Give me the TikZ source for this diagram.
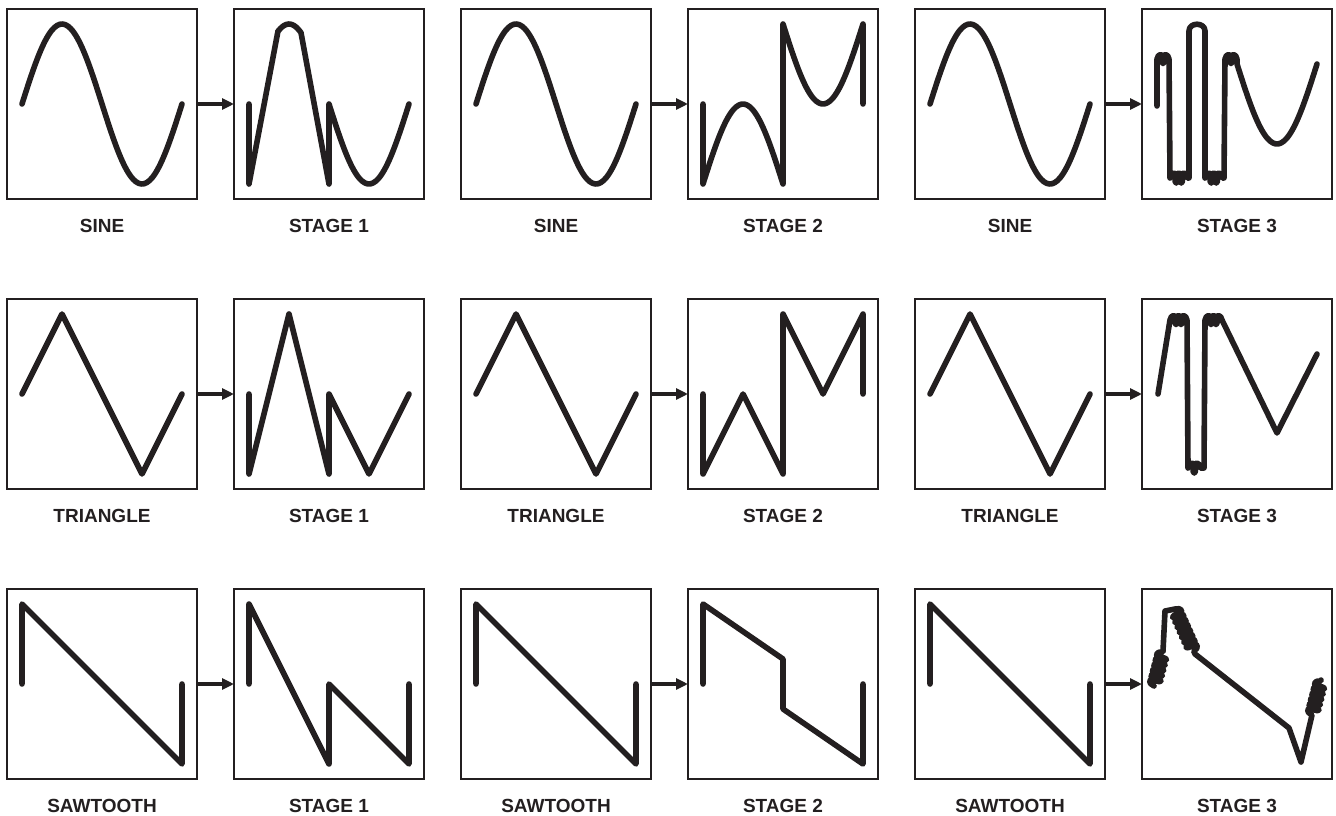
\documentclass[tikz,border=0pt]{standalone}
\usepackage{fontspec}
\setmainfont{Liberation Sans}
\usepackage{tikz}
\usetikzlibrary{positioning,arrows.meta,decorations.pathmorphing}
\definecolor{ink}{RGB}{35,31,32}

\begin{document}
\begin{tikzpicture}[x=1pt,y=-1pt,>={Triangle[length=12pt,width=11pt]},
  wbox/.style={draw=ink,line width=1.8pt,minimum size=190pt,inner sep=0pt,outer sep=0pt},
  lbl/.style={font=\bfseries\fontsize{19}{22}\selectfont,text=ink,inner sep=0pt},
  wave/.style={draw=ink,line width=5.6pt,line cap=round,line join=round},
  coilpart/.style={decorate,decoration={coil,amplitude=#1,segment length=5pt}},
  sawcoil/.style={decorate,decoration={coil,amplitude=5.5pt,segment length=5.5pt,aspect=0.45}},
  feed/.style={->,draw=ink,line width=3.2pt}]
\useasboundingbox (0,0) rectangle (1336,816);
% ---- boxes, row 1 (sine) ----
\node[wbox] (sinIn1) at (102,104) {};
\node[wbox] (sinSt1) at (329,104) {};
\node[wbox] (sinIn2) at (556,104) {};
\node[wbox] (sinSt2) at (783,104) {};
\node[wbox] (sinIn3) at (1010,104) {};
\node[wbox] (sinSt3) at (1237,104) {};
% ---- boxes, row 2 (triangle) ----
\node[wbox] (triIn1) at (102,394) {};
\node[wbox] (triSt1) at (329,394) {};
\node[wbox] (triIn2) at (556,394) {};
\node[wbox] (triSt2) at (783,394) {};
\node[wbox] (triIn3) at (1010,394) {};
\node[wbox] (triSt3) at (1237,394) {};
% ---- boxes, row 3 (sawtooth) ----
\node[wbox] (sawIn1) at (102,684) {};
\node[wbox] (sawSt1) at (329,684) {};
\node[wbox] (sawIn2) at (556,684) {};
\node[wbox] (sawSt2) at (783,684) {};
\node[wbox] (sawIn3) at (1010,684) {};
\node[wbox] (sawSt3) at (1237,684) {};
% ---- labels ----
\node[lbl,below=20pt of sinIn1] (sinInL1) {SINE};
\node[lbl,below=20pt of sinSt1] (sinStL1) {STAGE 1};
\node[lbl,below=20pt of sinIn2] (sinInL2) {SINE};
\node[lbl,below=20pt of sinSt2] (sinStL2) {STAGE 2};
\node[lbl,below=20pt of sinIn3] (sinInL3) {SINE};
\node[lbl,below=20pt of sinSt3] (sinStL3) {STAGE 3};
\node[lbl,below=20pt of triIn1] (triInL1) {TRIANGLE};
\node[lbl,below=20pt of triSt1] (triStL1) {STAGE 1};
\node[lbl,below=20pt of triIn2] (triInL2) {TRIANGLE};
\node[lbl,below=20pt of triSt2] (triStL2) {STAGE 2};
\node[lbl,below=20pt of triIn3] (triInL3) {TRIANGLE};
\node[lbl,below=20pt of triSt3] (triStL3) {STAGE 3};
\node[lbl,below=20pt of sawIn1] (sawInL1) {SAWTOOTH};
\node[lbl,below=20pt of sawSt1] (sawStL1) {STAGE 1};
\node[lbl,below=20pt of sawIn2] (sawInL2) {SAWTOOTH};
\node[lbl,below=20pt of sawSt2] (sawStL2) {STAGE 2};
\node[lbl,below=20pt of sawIn3] (sawInL3) {SAWTOOTH};
\node[lbl,below=20pt of sawSt3] (sawStL3) {STAGE 3};
% ---- arrows ----
\draw[feed] (sinIn1) -- (sinSt1);
\draw[feed] (sinIn2) -- (sinSt2);
\draw[feed] (sinIn3) -- (sinSt3);
\draw[feed] (triIn1) -- (triSt1);
\draw[feed] (triIn2) -- (triSt2);
\draw[feed] (triIn3) -- (triSt3);
\draw[feed] (sawIn1) -- (sawSt1);
\draw[feed] (sawIn2) -- (sawSt2);
\draw[feed] (sawIn3) -- (sawSt3);
% ---- input waves (box-local coordinates, 190 x 190) ----
\foreach \b in {sinIn1,sinIn2,sinIn3}
  \draw[wave,shift={(\b.north west)}]
    plot[domain=15:175,samples=60,smooth] (\x,{95-80*sin(2.25*(\x-15))});
\foreach \b in {triIn1,triIn2,triIn3}
  \draw[wave,shift={(\b.north west)}] (15,95) -- (55,15) -- (135,175) -- (175,95);
\foreach \b in {sawIn1,sawIn2,sawIn3}
  \draw[wave,shift={(\b.north west)}] (15,95) -- (15,15) -- (175,175) -- (175,95);
% ---- stage 1 ----
\draw[wave,shift={(sinSt1.north west)}] (15,95) -- (15,175) -- (44,22)
  -- plot[domain=44:67,samples=12,smooth] (\x,{95-80*sin(2.25*(\x-15))})
  -- (95,175) -- (95,95)
  -- plot[domain=95:175,samples=30,smooth] (\x,{95-80*sin(2.25*(\x-15))});
\draw[wave,shift={(triSt1.north west)}] (15,95) -- (15,175) -- (55,15) -- (95,175)
  -- (95,95) -- (135,175) -- (175,95);
\draw[wave,shift={(sawSt1.north west)}] (15,95) -- (15,15) -- (95,175) -- (95,95)
  -- (175,175) -- (175,95);
% ---- stage 2 ----
\draw[wave,shift={(sinSt2.north west)}] (15,95)
  -- plot[domain=15:95,samples=30,smooth] (\x,{175-80*sin(2.25*(\x-15))})
  -- (95,15)
  -- plot[domain=95:175,samples=30,smooth] (\x,{15+80*sin(2.25*(\x-95))})
  -- (175,95);
\draw[wave,shift={(triSt2.north west)}] (15,95) -- (15,175) -- (55,95) -- (95,175)
  -- (95,15) -- (135,95) -- (175,15) -- (175,95);
\draw[wave,shift={(sawSt2.north west)}] (15,95) -- (15,15) -- (95,70) -- (95,120)
  -- (175,175) -- (175,95);
% ---- stage 3 (folds with ringing) ----
\draw[wave,shift={(sinSt3.north west)}] (15,97) -- (15,50)
  decorate[coilpart=4.5pt]{-- (27,50)} -- (28,169)
  decorate[coilpart=5pt]{-- (47,169)} -- (47,22)
  .. controls (47,13) and (63,13) .. (63,22) -- (63,169)
  decorate[coilpart=5pt]{-- (82,169)} -- (83,50)
  decorate[coilpart=4.5pt]{-- (95,50)}
  -- plot[domain=95:175,samples=30,smooth] (\x,{55+80*sin(2.25*(\x-95))});
\draw[wave,shift={(triSt3.north west)}] (16,95) -- (28,21)
  decorate[coilpart=4.5pt]{-- (45,21)} -- (46,169)
  decorate[coilpart=5pt]{-- (62,169)} -- (63,21)
  decorate[coilpart=4.5pt]{-- (80,21)} -- (135,134) -- (175,55);
\draw[wave,shift={(sawSt3.north west)}] (12,97)
  decorate[sawcoil]{-- (21,62)} -- (23,22) -- (33,20)
  decorate[sawcoil]{-- (53,65)} -- (147,139) -- (159,173) -- (170,126)
  decorate[sawcoil]{-- (179,91)};
\end{tikzpicture}
\end{document}
